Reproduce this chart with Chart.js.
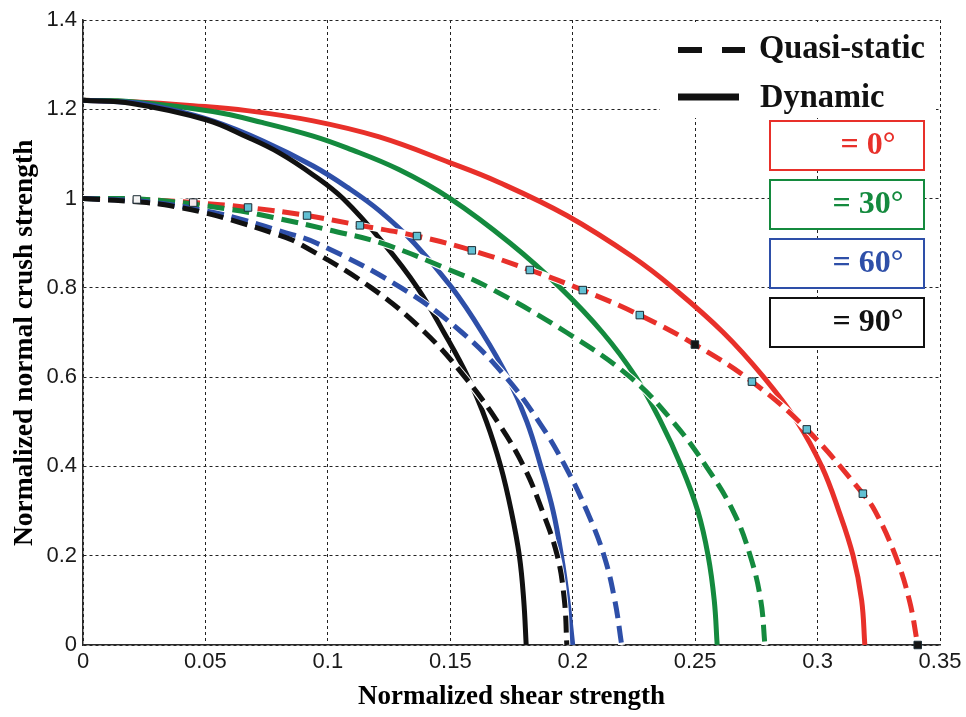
<!DOCTYPE html>
<html>
<head>
<meta charset="utf-8">
<script src="https://cdn.jsdelivr.net/npm/chart.js@4.4.1/dist/chart.umd.min.js"></script>
<style>
  html, body { margin: 0; padding: 0; background: #ffffff; }
  #wrap { width: 966px; height: 717px; }
</style>
</head>
<body>
<div id="wrap"><canvas id="c" width="966" height="717"></canvas></div>
<script>
// Axis tick labels
const xTickLabels = ['0', '0.05', '0.1', '0.15', '0.2', '0.25', '0.3', '0.35'];
const yTickLabels = ['0', '0.2', '0.4', '0.6', '0.8', '1', '1.2', '1.4'];

// Dynamic failure envelopes (solid lines)
const dyn0X  = [0, 0.02, 0.045, 0.067, 0.094, 0.121, 0.150, 0.170, 0.1976, 0.2246, 0.241, 0.2615, 0.278, 0.2917, 0.3017, 0.3087, 0.3145, 0.318, 0.3193];
const dyn0Y  = [1.22, 1.217, 1.208, 1.197, 1.174, 1.138, 1.080, 1.036, 0.962, 0.869, 0.800, 0.700, 0.600, 0.500, 0.400, 0.300, 0.200, 0.100, 0];
const dyn30X = [0, 0.02, 0.053, 0.0735, 0.094, 0.108, 0.129, 0.150, 0.1745, 0.195, 0.2122, 0.2258, 0.236, 0.2444, 0.2511, 0.2553, 0.2578, 0.259];
const dyn30Y = [1.22, 1.217, 1.195, 1.170, 1.140, 1.113, 1.065, 1.000, 0.900, 0.800, 0.700, 0.600, 0.500, 0.400, 0.300, 0.200, 0.100, 0];
const dyn60X = [0, 0.02, 0.033, 0.053, 0.0735, 0.094, 0.108, 0.121, 0.1353, 0.1507, 0.163, 0.1734, 0.1813, 0.187, 0.192, 0.1954, 0.198, 0.200];
const dyn60Y = [1.22, 1.215, 1.203, 1.174, 1.129, 1.073, 1.025, 0.973, 0.900, 0.800, 0.700, 0.600, 0.500, 0.400, 0.300, 0.200, 0.100, 0];
const dyn90X = [0, 0.02, 0.0506, 0.067, 0.080, 0.094, 0.1062, 0.1227, 0.1366, 0.1474, 0.1572, 0.1648, 0.1706, 0.1749, 0.1782, 0.180, 0.181];
const dyn90Y = [1.22, 1.213, 1.176, 1.138, 1.103, 1.053, 1.000, 0.900, 0.800, 0.700, 0.600, 0.500, 0.400, 0.300, 0.200, 0.100, 0];

// Quasi-static failure envelopes (dashed lines)
const qs0X  = [0, 0.022, 0.045, 0.0674, 0.0915, 0.1131, 0.1364, 0.1588, 0.1825, 0.2041, 0.2274, 0.2499, 0.2732, 0.2956, 0.3185, 0.3235, 0.3318, 0.3375, 0.3409];
const qs0Y  = [1.0, 0.998, 0.991, 0.980, 0.962, 0.940, 0.916, 0.884, 0.840, 0.795, 0.739, 0.673, 0.590, 0.483, 0.339, 0.300, 0.200, 0.100, 0];
const qs30X = [0, 0.026, 0.060, 0.080, 0.101, 0.122, 0.149, 0.166, 0.1975, 0.2235, 0.241, 0.2545, 0.2655, 0.2725, 0.2768, 0.2785];
const qs30Y = [1.0, 0.998, 0.976, 0.955, 0.929, 0.900, 0.842, 0.800, 0.700, 0.600, 0.500, 0.400, 0.300, 0.200, 0.100, 0];
const qs60X = [0, 0.026, 0.0506, 0.067, 0.080, 0.0955, 0.130, 0.1548, 0.1727, 0.1862, 0.197, 0.2058, 0.2128, 0.2172, 0.220];
const qs60Y = [1.0, 0.993, 0.972, 0.950, 0.928, 0.900, 0.800, 0.700, 0.600, 0.500, 0.400, 0.300, 0.200, 0.100, 0];
const qs90X = [0, 0.026, 0.0396, 0.049, 0.060, 0.080, 0.088, 0.1178, 0.1397, 0.156, 0.1693, 0.180, 0.1876, 0.1937, 0.1966, 0.1976];
const qs90Y = [1.0, 0.991, 0.980, 0.969, 0.953, 0.918, 0.900, 0.800, 0.700, 0.600, 0.500, 0.400, 0.300, 0.200, 0.100, 0];

// Square markers along the 0° quasi-static envelope
const markX = [0.022, 0.045, 0.0674, 0.0915, 0.1131, 0.1364, 0.1588, 0.1825, 0.2041, 0.2274, 0.2499, 0.2732, 0.2956, 0.3185, 0.3409];
const markY = [0.998, 0.991, 0.980, 0.962, 0.940, 0.916, 0.884, 0.840, 0.795, 0.739, 0.673, 0.590, 0.483, 0.339, 0];

// Key entries
const lineKeyLabels = ['Quasi-static', 'Dynamic'];
const angleLabels = ['= 0°', '= 30°', '= 60°', '= 90°'];

const RED = '#e8302a', GREEN = '#148a3e', BLUE = '#2e4fa8', BLACK = '#111111';
const angleColors = [RED, GREEN, BLUE, BLACK];

const pts = (xs, ys) => xs.map((x, i) => ({ x, y: ys[i] }));

function solid(xs, ys, color, order) {
  return { data: pts(xs, ys), borderColor: color, borderWidth: 5, pointRadius: 0,
           tension: 0.4, fill: false, order };
}
function halo(xs, ys, order) {
  return { data: pts(xs, ys), borderColor: '#ffffff', borderWidth: 7, pointRadius: 0,
           tension: 0.4, fill: false, order };
}
function dashed(xs, ys, color, order) {
  return { data: pts(xs, ys), borderColor: color, borderWidth: 5, borderDash: [17, 8],
           borderCapStyle: 'butt', pointRadius: 0, tension: 0.4, fill: false, order };
}

const datasets = [
  { data: pts(markX, markY), showLine: false, pointStyle: 'rect', pointRadius: 5.3,
    pointBackgroundColor: ['#f4f4f4', '#f6e6ea', '#62c0d3', '#62c0d3', '#62c0d3', '#62c0d3', '#62c0d3',
                           '#62c0d3', '#62c0d3', '#62c0d3', '#151515', '#62c0d3', '#62c0d3', '#62c0d3', '#151515'],
    pointBorderColor: '#1b2b33', pointBorderWidth: 1, clip: false, order: 0 },
  dashed(qs90X, qs90Y, BLACK, 1),
  dashed(qs60X, qs60Y, BLUE, 2),
  dashed(qs30X, qs30Y, GREEN, 3),
  dashed(qs0X, qs0Y, RED, 4),
  halo(qs90X, qs90Y, 5),
  halo(qs60X, qs60Y, 6),
  halo(qs30X, qs30Y, 7),
  halo(qs0X, qs0Y, 8),
  solid(dyn90X, dyn90Y, BLACK, 9),
  solid(dyn60X, dyn60Y, BLUE, 10),
  solid(dyn30X, dyn30Y, GREEN, 11),
  solid(dyn0X, dyn0Y, RED, 12)
];

// Key drawn over the grid in the upper right of the plot
const keyPlugin = {
  id: 'envelopeKey',
  beforeDatasetsDraw(chart) {
    const ctx = chart.ctx;
    ctx.save();
    ctx.fillStyle = '#ffffff';
    ctx.fillRect(660, 22, 276, 96);

    ctx.strokeStyle = BLACK;
    ctx.lineCap = 'butt';
    ctx.lineWidth = 6;
    ctx.beginPath();
    ctx.moveTo(678, 50); ctx.lineTo(702, 50);
    ctx.moveTo(722, 50); ctx.lineTo(745, 50);
    ctx.stroke();
    ctx.lineWidth = 7;
    ctx.beginPath();
    ctx.moveTo(678, 97); ctx.lineTo(739, 97);
    ctx.stroke();

    ctx.fillStyle = BLACK;
    ctx.font = 'bold 34px "Liberation Serif", "Times New Roman", serif';
    ctx.textBaseline = 'alphabetic';
    ctx.textAlign = 'left';
    [[759, 58], [760, 107]].forEach(([x, y], i) => {
      ctx.save();
      ctx.translate(x, y);
      ctx.scale(0.955, 1);
      ctx.fillText(lineKeyLabels[i], 0, 0);
      ctx.restore();
    });

    const boxTops = [121, 180, 239, 298];
    ctx.font = 'bold 32px "Liberation Serif", "Times New Roman", serif';
    ctx.textAlign = 'center';
    angleLabels.forEach((label, i) => {
      ctx.fillStyle = '#ffffff';
      ctx.fillRect(770, boxTops[i], 154, 49);
      ctx.strokeStyle = angleColors[i];
      ctx.lineWidth = 2;
      ctx.strokeRect(770, boxTops[i], 154, 49);
      ctx.fillStyle = angleColors[i];
      ctx.fillText(label, 868, boxTops[i] + 33);
    });
    ctx.restore();
  }
};

const gridStyle = { color: '#222222', lineWidth: 1, drawTicks: false };
const tickFont = { family: '"Liberation Sans", Arial, sans-serif', size: 22 };
const titleFont = { family: '"Liberation Serif", "Times New Roman", serif', size: 27, weight: 'bold' };

new Chart(document.getElementById('c'), {
  type: 'line',
  data: { datasets },
  plugins: [keyPlugin],
  options: {
    responsive: false,
    animation: false,
    layout: { padding: { top: 20, right: 26, left: 0, bottom: 0 } },
    plugins: { legend: { display: false }, tooltip: { enabled: false } },
    scales: {
      x: {
        type: 'linear', min: 0, max: 0.35,
        grid: gridStyle,
        border: { display: true, color: '#2a2a2a', width: 1.5, dash: [3, 3] },
        ticks: { stepSize: 0.05, color: '#1a1a1a', font: tickFont, padding: 4, maxRotation: 0,
                 callback: (v, i) => xTickLabels[i] },
        title: { display: true, text: 'Normalized shear strength', color: '#000', font: titleFont,
                 padding: { top: 0, bottom: 4 } },
        afterFit: (s) => { s.height = 72; }
      },
      y: {
        type: 'linear', min: 0, max: 1.4,
        grid: gridStyle,
        border: { display: true, color: '#2a2a2a', width: 1.5, dash: [3, 3] },
        ticks: { stepSize: 0.2, color: '#1a1a1a', font: tickFont, padding: 6,
                 callback: (v, i) => yTickLabels[i] },
        title: { display: true, text: 'Normalized normal crush strength   ', color: '#000',
                 font: { ...titleFont, size: 27.5 }, padding: { top: 8, bottom: 0 } },
        afterFit: (s) => { s.width = 83; }
      }
    }
  }
});
</script>
</body>
</html>
